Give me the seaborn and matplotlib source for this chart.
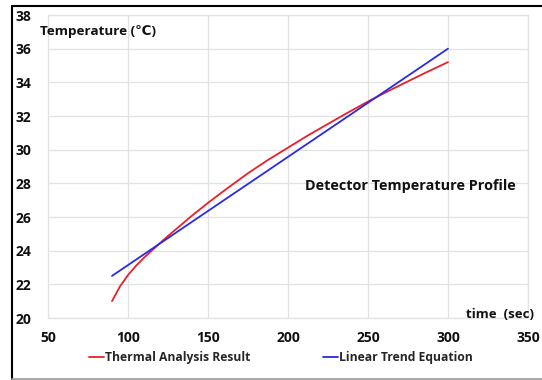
import matplotlib
matplotlib.use("Agg")
import matplotlib.pyplot as plt
import seaborn as sns
import pandas as pd
from matplotlib.lines import Line2D

# data
thermal_time = [90, 95, 100, 105, 110, 115, 120, 125, 135, 140, 150, 162, 175, 187, 200,
                212, 225, 237, 250, 262, 275, 287, 300]
thermal_temp = [21.0, 21.88, 22.55, 23.1, 23.58, 24.02, 24.45, 24.87, 25.68, 26.08, 26.84, 27.7,
                28.6, 29.36, 30.12, 30.82, 31.53, 32.18, 32.86, 33.45, 34.06, 34.62, 35.2]
trend_time = [90, 300]
trend_temp = [22.5, 36.0]
series_names = ["Thermal Analysis Result", "Linear Trend Equation"]
x_ticks = [50, 100, 150, 200, 250, 300, 350]
y_ticks = [20, 22, 24, 26, 28, 30, 32, 34, 36, 38]

df = pd.concat([
    pd.DataFrame({"time": thermal_time, "temp": thermal_temp, "series": series_names[0]}),
    pd.DataFrame({"time": trend_time, "temp": trend_temp, "series": series_names[1]}),
])

sns.set_theme(style="white")
FAM = ["Open Sans", "DejaVu Sans"]
plt.rcParams["font.family"] = FAM

fig = plt.figure(figsize=(5.42, 3.80), dpi=100)
ax = fig.add_axes([48/542, 1-318/380, 480/542, 303/380])

palette = {series_names[0]: "#e8202a", series_names[1]: "#2a2ae6"}
sns.lineplot(data=df, x="time", y="temp", hue="series", palette=palette,
             linewidth=1.3, ax=ax, sort=False, estimator=None, legend=False)

ax.set_xlim(50, 350)
ax.set_ylim(20, 38)
ax.set_xticks(x_ticks)
ax.set_yticks(y_ticks)
ax.set_xlabel("")
ax.set_ylabel("")
ax.grid(True, color="#e2e2e2", linewidth=0.9)
for s in ax.spines.values():
    s.set_color("#e2e2e2")
    s.set_linewidth(0.9)
TXT = "#111111"
ax.tick_params(axis="both", length=0, labelsize=10, colors=TXT)
ax.tick_params(axis="x", pad=9)
ax.tick_params(axis="y", pad=12)
for lab in ax.get_xticklabels() + ax.get_yticklabels():
    lab.set_fontweight("bold")

fig.text(40/542, 1-31/380, "Temperature (\u2103)", fontsize=9.7, fontweight="bold",
         va="center", ha="left", color=TXT, family=FAM)
fig.text(466/542, 1-315/380, "time  (sec)", fontsize=9.5, fontweight="bold",
         va="center", ha="left", color=TXT, family=FAM)
fig.text(305/542, 1-186/380, "Detector Temperature Profile", fontsize=10.4, fontweight="bold",
         va="center", ha="left", color=TXT, family=FAM)

for name, xl in zip(series_names, [89/542, 323/542]):
    h = Line2D([], [], color=palette[name], linewidth=1.3)
    fig.legend([h], [name], loc="center left", bbox_to_anchor=(xl, 1-358/380),
               frameon=False, handlelength=1.25, handletextpad=0.05,
               borderpad=0, borderaxespad=0,
               prop={"family": FAM, "weight": "bold", "size": 8.7})

# outer border
fig.add_artist(Line2D([12/542, 12/542], [0.003, 1-5.5/380], color="black", linewidth=1.5, transform=fig.transFigure))
fig.add_artist(Line2D([12/542, 1.0], [1-5.5/380, 1-5.5/380], color="black", linewidth=1.5, transform=fig.transFigure))
fig.add_artist(Line2D([12/542, 1.0], [1-378.5/380, 1-378.5/380], color="#999999", linewidth=1.2, transform=fig.transFigure))

fig.savefig("out.png", dpi=100)
